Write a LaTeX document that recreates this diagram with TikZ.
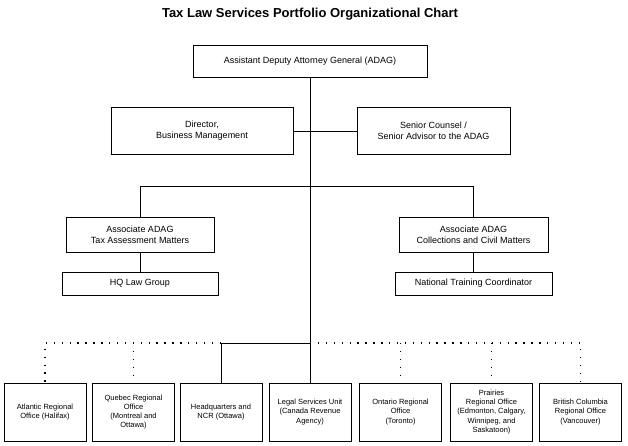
\documentclass[tikz,border=0pt]{standalone}
\usepackage{fontspec}
\setmainfont{Liberation Sans}
\begin{document}
\begin{tikzpicture}[x=1pt,y=-1pt,
  box/.style={draw,thick,align=center,inner sep=0pt,font=\fontsize{9}{11}\selectfont},
  sbox/.style={draw,thick,align=center,inner sep=0pt,font=\fontsize{7.5}{9.2}\selectfont},
  ln/.style={thick},
  dt/.style={line width=1.4pt,dash pattern=on 1.4pt off 6.5pt}]
\useasboundingbox (0,0) rectangle (628,445);
\node[font=\bfseries\fontsize{13}{15}\selectfont] (title) at (310,14) {Tax Law Services Portfolio Organizational Chart};
\node[box,minimum width=234pt,minimum height=32pt] (adag) at (310,61) {Assistant Deputy Attorney General (ADAG)};
\node[box,minimum width=182pt,minimum height=47pt] (dir) at (202,131) {Director,\\Business Management};
\node[box,minimum width=153pt,minimum height=47pt] (sc) at (433.5,131) {Senior Counsel /\\Senior Advisor to the ADAG};
\node[box,minimum width=148pt,minimum height=35pt] (al) at (140,234.5) {Associate ADAG\\Tax Assessment Matters};
\node[box,minimum width=149pt,minimum height=35pt] (ar) at (473.5,234.5) {Associate ADAG\\Collections and Civil Matters};
\node[box,minimum width=156pt,minimum height=23pt] (hq) at (140,283.5) {HQ Law Group};
\node[box,minimum width=157pt,minimum height=23pt] (nt) at (473.5,283.5) {National Training Coordinator};
\foreach \n/\x/\t in {b1/45/{Atlantic Regional\\Office (Halifax)},
  b2/133.5/{Quebec Regional\\Office\\(Montreal and\\Ottawa)},
  b3/221/{Headquarters and\\NCR (Ottawa)},
  b4/310/{Legal Services Unit\\(Canada Revenue\\Agency)},
  b5/400.5/{Ontario Regional\\Office\\(Toronto)},
  b6/491.5/{Prairies\\Regional Office\\(Edmonton, Calgary,\\Winnipeg, and\\Saskatoon)},
  b7/580.5/{British Columbia\\Regional Office\\(Vancouver)}}
  \node[sbox,minimum width=82pt,minimum height=58pt] (\n) at (\x,412) {\t};
\coordinate (j3) at (310,343);
\coordinate (jl) at (140,186);
\coordinate (jr) at (473.5,186);
\coordinate (d1) at (45,343);
\coordinate (d2) at (133.5,343);
\coordinate (d3) at (221,343);
\coordinate (d5) at (400.5,343);
\coordinate (d6) at (491.5,343);
\coordinate (d7) at (580.5,343);
\draw[ln] (adag.south) -- (b4.north);
\draw[ln] (dir.east) -- (sc.west);
\draw[ln] (jl) -- (jr);
\draw[ln] (jl) -- (al.north);
\draw[ln] (jr) -- (ar.north);
\draw[ln] (al.south) -- (hq.north);
\draw[ln] (ar.south) -- (nt.north);
\draw[ln] (j3) -- (d3) -- (b3.north);
\draw[dt] (d3) -- (d1) -- (b1.north);
\draw[dt] (d2) -- (b2.north);
\draw[dt] (j3) -- (d7) -- (b7.north);
\draw[dt] (d5) -- (b5.north);
\draw[dt] (d6) -- (b6.north);
\end{tikzpicture}
\end{document}
